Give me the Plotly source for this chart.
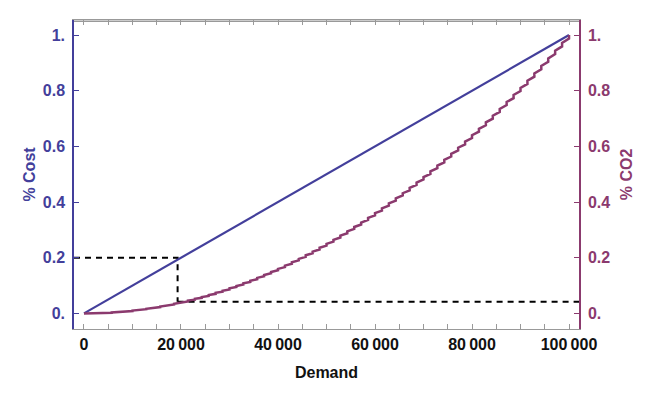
import plotly.graph_objects as go

# ---------------- data ----------------
demand_cost = [0, 100000]
cost_share = [0.0, 1.0]

co2_steps = [0.0,
    0.0002, 0.0008, 0.0018, 0.0033, 0.0051, 0.0073, 0.0100, 0.0131, 0.0165, 0.0204,
    0.0247, 0.0294, 0.0345, 0.0400, 0.0459, 0.0522, 0.0590, 0.0661, 0.0737, 0.0816,
    0.0900, 0.0988, 0.1080, 0.1176, 0.1276, 0.1380, 0.1488, 0.1600, 0.1716, 0.1837,
    0.1961, 0.2090, 0.2222, 0.2359, 0.2500, 0.2645, 0.2794, 0.2947, 0.3104, 0.3265,
    0.3431, 0.3600, 0.3773, 0.3951, 0.4133, 0.4318, 0.4508, 0.4702, 0.4900, 0.5102,
    0.5308, 0.5518, 0.5733, 0.5951, 0.6173, 0.6400, 0.6631, 0.6865, 0.7104, 0.7347,
    0.7594, 0.7845, 0.8100, 0.8359, 0.8622, 0.8890, 0.9161, 0.9437, 0.9716, 1.0]
demand_max = 100000
tread_rise = 0.55   # share of each step's rise that happens along the sloped tread

ref_demand = 19300
ref_cost = 0.2
ref_co2 = 0.042

x_tickvals = [0, 20000, 40000, 60000, 80000, 100000]
x_ticktext = ["0", "20\u2009000", "40\u2009000", "60\u2009000", "80\u2009000", "100\u2009000"]
y_tickvals = [0, 0.2, 0.4, 0.6, 0.8, 1.0]
y_ticktext = ["0.", "0.2", "0.4", "0.6", "0.8", "1."]

# build staircase path (sloped treads + small risers)
n = len(co2_steps) - 1
step_x, step_y = [], []
for i in range(n):
    x0 = demand_max * i / n
    x1 = demand_max * (i + 1) / n
    y0, y1 = co2_steps[i], co2_steps[i + 1]
    step_x += [x0, x1]
    step_y += [y0, y0 + tread_rise * (y1 - y0)]
step_x.append(demand_max)
step_y.append(co2_steps[-1])

# ---------------- style ----------------
COST_C = "#433f9b"
CO2_C = "#8b3a6e"
FRAME_C = "#999999"
FONT = "Liberation Sans"
XR = [-2060, 102060]
YR = [-0.056, 1.054]

fig = go.Figure()

dash = dict(color="black", width=2, dash="6px,5px")
fig.add_trace(go.Scatter(x=[XR[0], ref_demand, ref_demand], y=[ref_cost, ref_cost, ref_co2],
                         mode="lines", line=dash, hoverinfo="skip", showlegend=False))
fig.add_trace(go.Scatter(x=[ref_demand, XR[1]], y=[ref_co2, ref_co2],
                         mode="lines", line=dash, hoverinfo="skip", showlegend=False))

fig.add_trace(go.Scatter(x=demand_cost, y=cost_share, mode="lines",
                         line=dict(color=COST_C, width=2.2), showlegend=False))
fig.add_trace(go.Scatter(x=step_x, y=step_y, mode="lines", yaxis="y2",
                         line=dict(color=CO2_C, width=2.5), showlegend=False))

tickfont = dict(family=FONT, size=16, weight="bold")

# top frame edge
fig.add_shape(type="line", xref="paper", yref="paper", x0=0, x1=1, y0=0.996, y1=0.996,
              line=dict(color=FRAME_C, width=1.4), layer="above")

fig.update_layout(
    width=650, height=397,
    margin=dict(l=74, r=71, t=20, b=68),
    paper_bgcolor="white", plot_bgcolor="white",
    xaxis=dict(range=XR, showgrid=False, zeroline=False, automargin=False,
               showline=True, linecolor=FRAME_C, linewidth=1.4, mirror="allticks",
               ticks="inside", ticklen=5, tickcolor=FRAME_C, tickwidth=1,
               tickvals=x_tickvals, ticktext=x_ticktext,
               tickfont=dict(color="#111111", **tickfont), ticklabelstandoff=1,
               minor=dict(dtick=5000, tick0=0, ticks="inside", ticklen=3, tickcolor=FRAME_C),
               title=dict(text="Demand", font=dict(family=FONT, size=16, weight="bold", color="#111111"),
                          standoff=14)),
    yaxis=dict(range=YR, showgrid=False, zeroline=False, automargin=False,
               showline=True, linecolor=COST_C, linewidth=1.5,
               ticks="inside", ticklen=5, tickcolor=COST_C,
               tickvals=y_tickvals, ticktext=y_ticktext,
               tickfont=dict(color=COST_C, **tickfont), ticklabelstandoff=4,
               title=dict(text="% Cost", font=dict(family=FONT, size=16, weight="bold", color=COST_C),
                          standoff=3)),
    yaxis2=dict(range=YR, overlaying="y", side="right", anchor="x", automargin=False,
                showgrid=False, zeroline=False,
                showline=True, linecolor=CO2_C, linewidth=1.5,
                ticks="inside", ticklen=5, tickcolor=CO2_C,
                tickvals=y_tickvals, ticktext=y_ticktext,
                tickfont=dict(color=CO2_C, **tickfont), ticklabelstandoff=4,
                title=dict(text="% CO2", font=dict(family=FONT, size=16, weight="bold", color=CO2_C),
                           standoff=12)),
)

fig.write_html("out.html", config={"displayModeBar": False},
               post_script="document.body.style.margin='0';document.body.style.padding='0';")
